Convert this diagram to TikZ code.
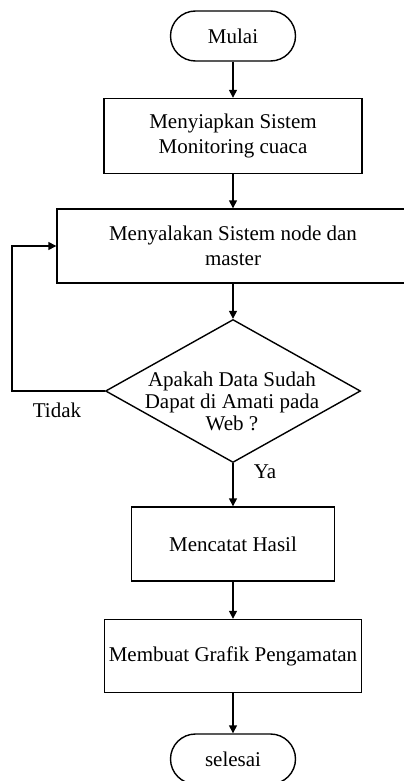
\documentclass[tikz,border=0pt]{standalone}
\usepackage{fontspec}
\setmainfont{Liberation Serif}
\usetikzlibrary{shapes.geometric,arrows.meta}
\begin{document}
\begin{tikzpicture}[x=0.5pt,y=-0.5pt,
        font=\fontsize{10.5}{12.5}\selectfont,
        >={Triangle[length=4pt,width=4pt]},
        term/.style={draw,rectangle,rounded corners=12.5pt,minimum width=62.5pt,
            minimum height=25pt,inner sep=0pt,line width=0.7pt},
        proc/.style={draw,rectangle,align=center,inner sep=0pt,line width=0.7pt},
        decide/.style={draw,diamond,minimum width=127.5pt,minimum height=71.5pt,
            inner sep=0pt,line width=0.7pt}]
\useasboundingbox (0,0) rectangle (403,781);

\node[term] (mulai) at (233,36) {Mulai};
\node[proc,minimum width=129pt,minimum height=37.5pt] (siap) at (233,136) {Menyiapkan Sistem\\Monitoring cuaca};
\node[proc,minimum width=176pt,minimum height=37pt] (nyala) at (233,246) {Menyalakan Sistem node dan\\master};
\node[decide] (cek) at (233,391) {};
\node[align=center,font=\fontsize{10.5}{11}\selectfont] (cektext) at (232,401) {Apakah Data Sudah\\Dapat di Amati pada\\Web ?};
\node[proc,minimum width=101.5pt,minimum height=37pt] (catat) at (233,544) {Mencatat Hasil};
\node[proc,minimum width=128.5pt,minimum height=36.5pt] (grafik) at (233,656) {Membuat Grafik Pengamatan};
\node[term] (selesai) at (233,759) {selesai};

\node (tidak) at (57,410) {Tidak};
\node (ya) at (265,472) {Ya};

\draw[->,line width=0.7pt] (mulai) -- (siap);
\draw[->,line width=0.7pt] (siap) -- (nyala);
\draw[->,line width=0.7pt] (nyala) -- (cek);
\draw[->,line width=0.7pt] (cek) -- (catat);
\draw[->,line width=0.7pt] (catat) -- (grafik);
\draw[->,line width=0.7pt] (grafik) -- (selesai);
\draw[->,line width=0.7pt] (cek.west) -- ([xshift=-46.5pt]cek.west) |- (nyala.west);

\end{tikzpicture}
\end{document}
